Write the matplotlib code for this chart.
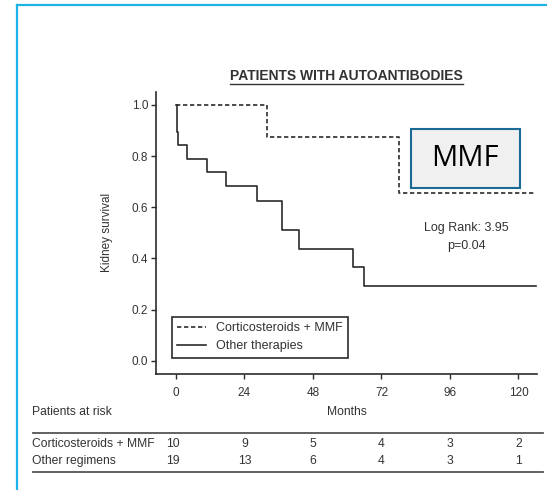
import matplotlib
matplotlib.use("Agg")
import matplotlib.pyplot as plt
import matplotlib.transforms as mtransforms
from matplotlib.lines import Line2D
from matplotlib.patches import Rectangle

plt.rcParams["font.family"] = ["Liberation Sans", "DejaVu Sans"]

# ── data ─────────────────────────────────────────────────────────────────────
mmf_months = [0, 31.8, 78, 126]
mmf_surv = [1.0, 0.875, 0.656, 0.656]

other_months = [0, 0.3, 0.8, 4, 11, 17.5, 28.5, 37, 43, 62, 66, 126]
other_surv = [1.0, 0.895, 0.842, 0.789, 0.737, 0.684, 0.626, 0.511, 0.438,
              0.365, 0.292, 0.292]

x_ticks = [0, 24, 48, 72, 96, 120]
y_ticks = [0.0, 0.2, 0.4, 0.6, 0.8, 1.0]

risk_groups = ["Corticosteroids + MMF", "Other regimens"]
risk_mmf = [10, 9, 5, 4, 3, 2]
risk_other = [19, 13, 6, 4, 3, 1]

series_labels = ["Corticosteroids + MMF", "Other therapies"]
title = "PATIENTS WITH AUTOANTIBODIES"
log_rank = ["Log Rank: 3.95", "p=0.04"]

W, H = 547, 490
ink = "#2b2b2b"
txt = "#333333"

fig = plt.figure(figsize=(W / 100, H / 100), dpi=100)
fig.patch.set_facecolor("white")

# ── axes ─────────────────────────────────────────────────────────────────────
ax = fig.add_axes([156 / W, 1 - 374 / H, (537 - 156) / W, (374 - 91.7) / H])
ax.step(mmf_months, mmf_surv, where="post", color=ink, lw=1.2,
        dashes=(2.6, 1.6), label=series_labels[0])
ax.step(other_months, other_surv, where="post", color=ink, lw=1.2,
        label=series_labels[1])

ax.set_xlim(-7, 126.5)
ax.set_ylim(-0.052, 1.052)
ax.set_xticks(x_ticks)
ax.set_yticks(y_ticks)
ax.set_yticklabels([f"{v:.1f}" for v in y_ticks])
for side in ["top", "right"]:
    ax.spines[side].set_visible(False)
for side in ["left", "bottom"]:
    ax.spines[side].set_color(ink)
    ax.spines[side].set_linewidth(1.2)
ax.tick_params(axis="both", direction="out", length=3.5, width=1, color=ink,
               labelsize=8.5, labelcolor=txt)
ax.tick_params(axis="x", pad=6)
ax.tick_params(axis="y", pad=2)

ax.set_ylabel("Kidney survival", fontsize=8.5, color=txt)
ax.yaxis.set_label_coords(-0.113, 0.5)

leg = ax.legend(loc="lower left", bbox_to_anchor=(0.041, 0.058),
                borderaxespad=0, fancybox=False, fontsize=9,
                handlelength=2.3, labelspacing=0.45, borderpad=0.45,
                edgecolor=ink, framealpha=1)
leg.get_frame().set_linewidth(1.2)
for t in leg.get_texts():
    t.set_color(txt)

ax.text(0.8155, 0.518, log_rank[0], transform=ax.transAxes, ha="center",
        va="center", fontsize=9, color=txt)
ax.text(0.8155, 0.4545, log_rank[1], transform=ax.transAxes, ha="center",
        va="center", fontsize=9, color=txt)

# ── title (underlined) ───────────────────────────────────────────────────────
t_obj = fig.text(346.7 / W, 1 - 76 / H, title, ha="center", va="center",
                 fontsize=10, fontweight="bold", color=txt)
renderer = fig.canvas.get_renderer()
bb = t_obj.get_window_extent(renderer).transformed(fig.transFigure.inverted())
fig.add_artist(Line2D([bb.x0, bb.x1], [bb.y0 - 0.002, bb.y0 - 0.002],
                      transform=fig.transFigure, color=txt, lw=1))

# ── risk table ───────────────────────────────────────────────────────────────
blend = mtransforms.blended_transform_factory(ax.transData, fig.transFigure)
fig.text(32 / W, 1 - 412 / H, "Patients at risk", ha="left", va="center",
         fontsize=8.7, color=txt)
fig.text(60, 1 - 412 / H, "Months", transform=blend, ha="center",
         va="center", fontsize=8.7, color=txt)

for y in [1 - 432.7 / H, 1 - 471.7 / H]:
    fig.add_artist(Line2D([33 / W, 543 / W], [y, y], transform=fig.transFigure,
                          color="#555555", lw=1.3))

col_shift = [-1, 0, 0, 0, 0, 0]
for row_y, name, counts in [(1 - 443.5 / H, risk_groups[0], risk_mmf),
                            (1 - 461 / H, risk_groups[1], risk_other)]:
    fig.text(32 / W, row_y, name, ha="left", va="center", fontsize=8.7,
             color=txt)
    for m, n, s in zip(x_ticks, counts, col_shift):
        fig.text(m + s, row_y, str(n), transform=blend, ha="center",
                 va="center", fontsize=8.7, color=txt)

# ── MMF call-out box ─────────────────────────────────────────────────────────
fig.add_artist(Rectangle((410.7 / W, 1 - 187.7 / H), 109.3 / W, 58.4 / H,
                         transform=fig.transFigure, facecolor="#f0f0f0",
                         edgecolor="#1b6a96", lw=1.5))
fig.text(465.3 / W, 1 - 158.5 / H, "MMF", ha="center", va="center",
         fontsize=21, family=["Open Sans", "DejaVu Sans"], color="black")

# ── cyan frame (cropped) ─────────────────────────────────────────────────────
frame_c = "#1cb4e6"
fig.add_artist(Line2D([16.5 / W, 16.5 / W], [-0.01, 1 - 5.5 / H],
                      transform=fig.transFigure, color=frame_c, lw=1.6))
fig.add_artist(Line2D([16.5 / W, 1.01], [1 - 5.5 / H, 1 - 5.5 / H],
                      transform=fig.transFigure, color=frame_c, lw=1.6))

fig.savefig("out.png", dpi=100)
